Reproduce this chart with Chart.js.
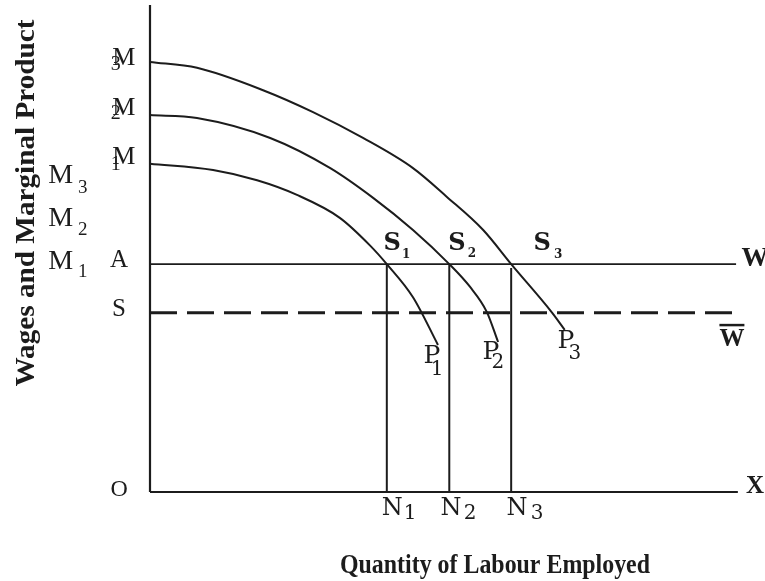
<!DOCTYPE html>
<html>
<head>
<meta charset="utf-8">
<script src="https://cdn.jsdelivr.net/npm/chart.js@4.4.1/dist/chart.umd.min.js"></script>
<style>
  html, body { margin: 0; padding: 0; background: #fff; }
  #wrap { width: 765px; height: 581px; }
</style>
</head>
<body>
<div id="wrap"><canvas id="mpChart" width="765" height="581"></canvas></div>
<script>
// marginal product curves (labour on x, wage / product on y)
const m3X = [0, 7.9, 19.0, 27.4, 35.8, 44.2, 49.9, 56.0, 60.7, 67.6, 69.7];
const m3Y = [88.3, 87.1, 82.5, 78.0, 72.7, 66.5, 60.6, 53.8, 46.8, 36.8, 33.3];
const m2X = [0, 7.9, 20.2, 30.3, 37.5, 44.2, 50.3, 53.8, 56.6, 58.5];
const m2Y = [77.4, 76.8, 72.7, 66.5, 60.4, 53.8, 46.8, 42.1, 37.0, 30.8];
const m1X = [0, 10.6, 18.0, 24.7, 31.9, 37.0, 39.8, 44.2, 48.4];
const m1Y = [67.4, 66.1, 64.0, 61.0, 56.3, 50.6, 46.8, 40.0, 30.2];

// wage levels
const wageW = 46.8;      // A ... W
const wageWbar = 36.8;   // S ... W bar (dashed)
const wageEnd = 99;

// employment levels N1, N2, N3
const employN = [39.8, 50.3, 60.7];
const employTop = [46.8, 46.8, 46.0];

const axisXEnd = 98.8;
const axisYEnd = 100;

const ink = '#1c1c1c';
const serif = '"Liberation Serif", "Times New Roman", serif';
const dvs = '"DejaVu Serif", serif';

// text labels: main text + optional subscript, placed in data units
const labels = [
  { t: 'M', s: '3', x: -15.0, y: 64.9, f: '28px ' + serif, sf: '19px ' + serif, dx: 22, dy: 12 },
  { t: 'M', s: '2', x: -15.0, y: 56.1, f: '28px ' + serif, sf: '19px ' + serif, dx: 22, dy: 11 },
  { t: 'M', s: '1', x: -15.0, y: 47.2, f: '28px ' + serif, sf: '19px ' + serif, dx: 22, dy: 10 },
  { t: 'M', s: '3', x: -4.4, y: 89.1, f: '26px ' + serif, sf: '20px ' + serif, dx: -8, dy: 7 },
  { t: 'M', s: '2', x: -4.4, y: 78.9, f: '26px ' + serif, sf: '20px ' + serif, dx: -8, dy: 6 },
  { t: 'M', s: '1', x: -4.4, y: 68.8, f: '26px ' + serif, sf: '20px ' + serif, dx: -8, dy: 8 },
  { t: 'A', x: -5.2, y: 47.6, f: '25px ' + serif },
  { t: 'S', x: -5.2, y: 37.4, f: '25px ' + serif },
  { t: 'O', x: -5.2, y: 0.4, f: '24px ' + serif },
  { t: 'S', s: '1', x: 40.7, y: 50.9, f: 'bold 24px ' + dvs, sf: 'bold 12px ' + dvs, dx: 14, dy: 11 },
  { t: 'S', s: '2', x: 51.6, y: 50.9, f: 'bold 24px ' + dvs, sf: 'bold 12px ' + dvs, dx: 15, dy: 10 },
  { t: 'S', s: '3', x: 65.9, y: 50.9, f: 'bold 24px ' + dvs, sf: 'bold 12px ' + dvs, dx: 16, dy: 11 },
  { t: 'P', s: '1', x: 47.4, y: 27.9, f: '25px ' + dvs, sf: '20px ' + dvs, dx: 5, dy: 14 },
  { t: 'P', s: '2', x: 57.3, y: 28.7, f: '25px ' + dvs, sf: '20px ' + dvs, dx: 7, dy: 11 },
  { t: 'P', s: '3', x: 69.9, y: 31.0, f: '25px ' + dvs, sf: '20px ' + dvs, dx: 9, dy: 13 },
  { t: 'N', s: '1', x: 40.7, y: -3.5, f: '24px ' + dvs, sf: '20px ' + dvs, dx: 18, dy: 5 },
  { t: 'N', s: '2', x: 50.6, y: -3.5, f: '24px ' + dvs, sf: '20px ' + dvs, dx: 19, dy: 5 },
  { t: 'N', s: '3', x: 61.7, y: -3.5, f: '24px ' + dvs, sf: '20px ' + dvs, dx: 20, dy: 5 },
  { t: 'W', x: 101.7, y: 47.8, f: 'bold 27px ' + serif },
  { t: 'W', x: 97.8, y: 31.4, f: 'bold 25px ' + serif, bar: true },
  { t: 'X', x: 101.7, y: 1.2, f: 'bold 25px ' + serif }
];

const yTitle = 'Wages and Marginal Product';
const xTitle = 'Quantity of Labour Employed';

function pts(xs, ys) {
  return xs.map((v, i) => ({ x: v, y: ys[i] }));
}

function lineSet(data, extra) {
  return Object.assign({
    data,
    borderColor: ink,
    borderWidth: 2,
    pointRadius: 0,
    fill: false,
    showLine: true,
    clip: false,
    tension: 0
  }, extra || {});
}

const datasets = [
  lineSet([{ x: 0, y: 0 }, { x: 0, y: axisYEnd }], { borderWidth: 2.2 }),
  lineSet([{ x: 0, y: 0 }, { x: axisXEnd, y: 0 }]),
  lineSet([{ x: 0, y: wageW }, { x: wageEnd - 0.5, y: wageW }], { borderWidth: 1.6 }),
  lineSet([{ x: 0, y: wageWbar }, { x: wageEnd, y: wageWbar }], { borderWidth: 3, borderDash: [27, 10] }),
  lineSet(pts(m3X, m3Y), { cubicInterpolationMode: 'monotone' }),
  lineSet(pts(m2X, m2Y), { cubicInterpolationMode: 'monotone' }),
  lineSet(pts(m1X, m1Y), { cubicInterpolationMode: 'monotone' })
];
employN.forEach((n, i) => {
  datasets.push(lineSet([{ x: n, y: 0 }, { x: n, y: employTop[i] }]));
});

const labelPlugin = {
  id: 'diagramText',
  afterDatasetsDraw(chart) {
    const { ctx } = chart;
    const sx = chart.scales.x, sy = chart.scales.y;
    ctx.save();
    ctx.fillStyle = ink;
    ctx.strokeStyle = ink;
    ctx.textAlign = 'center';
    ctx.textBaseline = 'middle';
    labels.forEach(l => {
      const px = sx.getPixelForValue(l.x);
      const py = sy.getPixelForValue(l.y);
      ctx.font = l.f;
      ctx.fillText(l.t, px, py);
      if (l.bar) {
        const w = ctx.measureText(l.t).width;
        ctx.lineWidth = 2.5;
        ctx.beginPath();
        ctx.moveTo(px - w / 2, py - 14);
        ctx.lineTo(px + w / 2, py - 14);
        ctx.stroke();
      }
      if (l.s) {
        ctx.font = l.sf;
        ctx.fillText(l.s, px + l.dx, py + l.dy);
      }
    });

    // axis titles, squeezed to the width they take in the scan
    ctx.font = 'bold 28px ' + serif;
    let w = ctx.measureText(yTitle).width;
    ctx.save();
    ctx.translate(34, 203);
    ctx.rotate(-Math.PI / 2);
    ctx.scale(367 / w, 1);
    ctx.textBaseline = 'alphabetic';
    ctx.fillText(yTitle, 0, 0);
    ctx.restore();

    ctx.font = 'bold 27px ' + serif;
    w = ctx.measureText(xTitle).width;
    ctx.save();
    ctx.translate(495, 573);
    ctx.scale(310 / w, 1);
    ctx.textBaseline = 'alphabetic';
    ctx.fillText(xTitle, 0, 0);
    ctx.restore();

    ctx.restore();
  }
};

new Chart(document.getElementById('mpChart'), {
  type: 'scatter',
  data: { datasets },
  options: {
    responsive: false,
    animation: false,
    events: [],
    layout: { padding: { left: 150, top: 5, right: 20, bottom: 89 } },
    plugins: { legend: { display: false }, tooltip: { enabled: false } },
    scales: {
      x: { type: 'linear', min: 0, max: 100, display: false },
      y: { type: 'linear', min: 0, max: 100, display: false }
    }
  },
  plugins: [labelPlugin]
});
</script>
</body>
</html>
